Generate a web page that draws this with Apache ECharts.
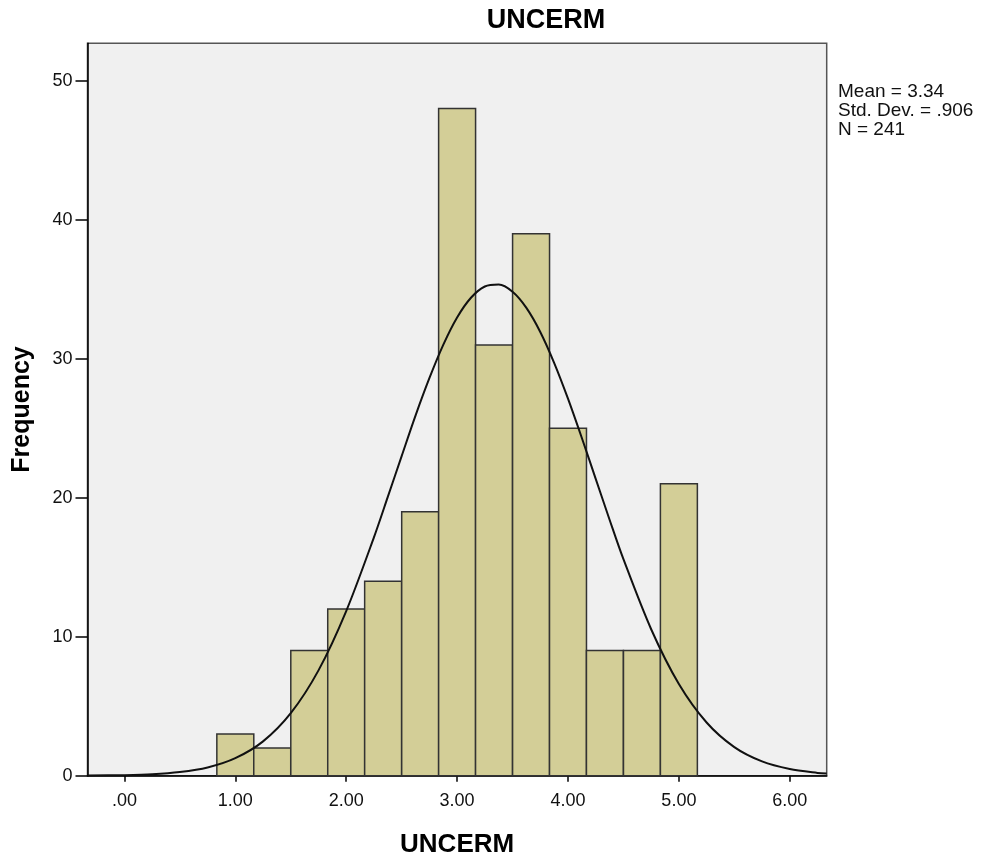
<!DOCTYPE html>
<html>
<head>
<meta charset="utf-8">
<script src="https://cdn.jsdelivr.net/npm/echarts@6/dist/echarts.min.js"></script>
<style>
html,body{margin:0;padding:0;background:#fff;}
#chart{width:984px;height:861px;}
</style>
</head>
<body>
<div id="chart"></div>
<script>
// ---- data ----
const binCenters = [1.000, 1.333, 1.667, 2.000, 2.333, 2.667, 3.000, 3.333, 3.667, 4.000, 4.333, 4.667, 5.000];
const binWidth = 1 / 3;
const frequencies = [3, 2, 9, 12, 14, 19, 48, 31, 39, 25, 9, 9, 21];
const curveX = [-0.333, 0, 0.25, 0.5, 0.75, 1, 1.25, 1.5, 1.75, 2, 2.25, 2.375, 2.5, 2.625, 2.75, 2.875, 3, 3.125, 3.25, 3.375, 3.5, 3.625, 3.75, 3.875, 4, 4.125, 4.25, 4.375, 4.5, 4.75, 5, 5.25, 5.5, 5.75, 6, 6.25, 6.333];
const curveY = [0.01, 0.04, 0.1, 0.26, 0.59, 1.26, 2.47, 4.5, 7.58, 11.85, 17.15, 20.06, 23.0, 25.91, 28.6, 31.0, 32.97, 34.39, 35.2, 35.34, 34.82, 33.66, 31.93, 29.71, 27.13, 24.3, 21.36, 18.42, 15.58, 10.54, 6.6, 3.83, 2.06, 1.03, 0.48, 0.2, 0.15];
const xTicks = [0, 1, 2, 3, 4, 5, 6];
const yTicks = [0, 10, 20, 30, 40, 50];
const chartTitle = 'UNCERM';
const xName = 'UNCERM';
const yName = 'Frequency';
const statsLines = ['Mean = 3.34', 'Std. Dev. = .906', 'N = 241'];

const barData = binCenters.map((c, i) => [c, frequencies[i]]);
const curveData = curveX.map((x, i) => [x, curveY[i]]);

const FONT = '"Liberation Sans", Arial, sans-serif';

const chart = echarts.init(document.getElementById('chart'), null, {renderer: 'canvas'});
chart.setOption({
  animation: false,
  backgroundColor: '#ffffff',
  grid: {
    left: 87.5, right: 157.3, top: 43.3, bottom: 85.3,
    show: true, backgroundColor: '#f0f0f0', borderColor: '#555', borderWidth: 1.5,
    outerBoundsMode: 'none'
  },
  xAxis: {
    type: 'value', min: -0.333, max: 6.333,
    name: xName, nameLocation: 'middle', nameGap: 56,
    nameTextStyle: {fontFamily: FONT, fontSize: 26, fontWeight: 'bold', color: '#000'},
    axisLine: {show: true, onZero: false, lineStyle: {color: '#000', width: 1.5}},
    axisTick: {show: true, customValues: xTicks, length: 6, lineStyle: {color: '#000', width: 1.5}},
    axisLabel: {
      customValues: xTicks, margin: 16, fontFamily: FONT, fontSize: 18, color: '#111',
      formatter: v => { const s = Number(v).toFixed(2); return s.startsWith('0') ? s.slice(1) : s; }
    },
    splitLine: {show: false}
  },
  yAxis: {
    type: 'value', min: 0, max: 52.7,
    name: yName, nameLocation: 'middle', nameGap: 53, nameRotate: 90,
    nameTextStyle: {fontFamily: FONT, fontSize: 25, fontWeight: 'bold', color: '#000'},
    axisLine: {show: true, onZero: false, lineStyle: {color: '#000', width: 1.5}},
    axisTick: {show: true, customValues: yTicks, length: 12, lineStyle: {color: '#000', width: 1.5}},
    axisLabel: {customValues: yTicks, margin: 15, fontFamily: FONT, fontSize: 18, color: '#111'},
    splitLine: {show: false}
  },
  series: [
    {
      type: 'custom',
      data: barData,
      z: 2,
      renderItem: function (params, api) {
        const c = api.value(0), v = api.value(1);
        const p1 = api.coord([c - binWidth / 2, v]);
        const p2 = api.coord([c + binWidth / 2, 0]);
        return {
          type: 'rect',
          shape: {x: p1[0], y: p1[1], width: p2[0] - p1[0], height: p2[1] - p1[1]},
          style: {fill: '#d3ce97', stroke: '#333', lineWidth: 1.5}
        };
      }
    },
    {
      type: 'line',
      data: curveData,
      smooth: 0.3,
      showSymbol: false,
      symbol: 'none',
      z: 3,
      lineStyle: {color: '#111', width: 2}
    }
  ],
  graphic: [
    {
      type: 'text', x: 546, y: 21,
      style: {text: chartTitle, fontFamily: FONT, fontSize: 27, fontWeight: 'bold', fill: '#000',
        align: 'center', verticalAlign: 'middle'}
    },
    {
      type: 'text', x: 838, y: 82,
      style: {text: statsLines.join('\n'), fontFamily: FONT, fontSize: 19, lineHeight: 19, fill: '#111',
        align: 'left', verticalAlign: 'top'}
    }
  ]
});
</script>
</body>
</html>
